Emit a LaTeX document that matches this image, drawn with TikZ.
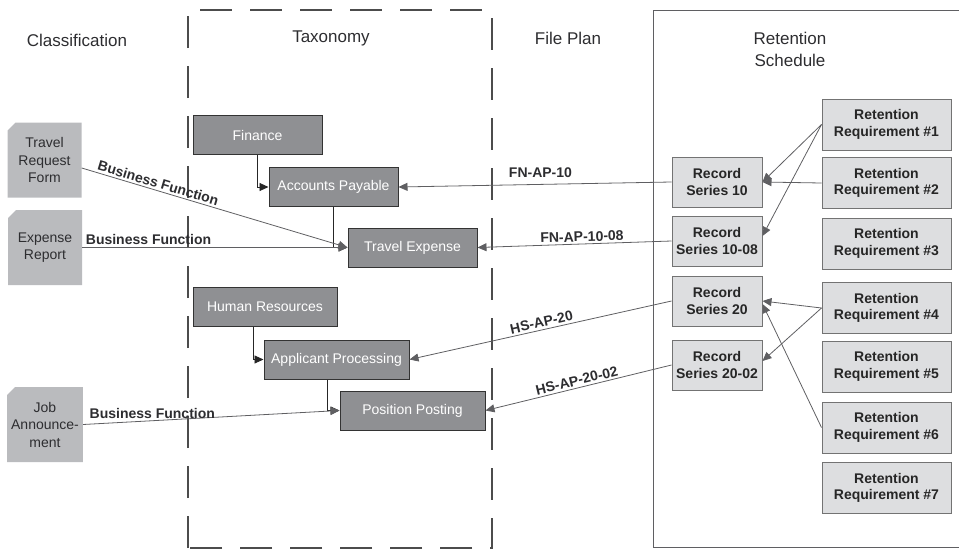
\documentclass[tikz,border=0pt]{standalone}
\usepackage{fontspec}
\setmainfont{Liberation Sans}
\usetikzlibrary{arrows.meta,shapes.misc}
\definecolor{docgray}{RGB}{186,187,190}
\definecolor{darkbox}{RGB}{143,144,147}
\definecolor{lightbox}{RGB}{221,222,224}
\definecolor{linegray}{RGB}{95,95,98}
\definecolor{txtgray}{RGB}{45,45,48}

\begin{document}
\begin{tikzpicture}[x=1pt,y=-1pt,
  every node/.style={font=\fontsize{14}{17}\selectfont,align=center},
  title/.style={font=\fontsize{17}{22}\selectfont,text=txtgray},
  doc/.style={chamfered rectangle,chamfered rectangle corners=north west,
    chamfered rectangle xsep=4pt,chamfered rectangle ysep=4pt,fill=docgray,
    inner sep=0pt,minimum width=74pt,minimum height=75pt,text=txtgray,
    font=\fontsize{14}{17.5}\selectfont},
  taxbox/.style={draw=black!80,line width=1pt,fill=darkbox,text=white,
    inner sep=0pt,minimum height=39pt},
  rsbox/.style={draw=black!55,line width=1pt,fill=lightbox,text=black!85,
    inner sep=0pt,minimum width=90pt,minimum height=50pt,font=\bfseries\fontsize{14}{16.5}\selectfont},
  reqbox/.style={rsbox,minimum width=129pt,minimum height=51pt},
  lab/.style={font=\bfseries\fontsize{14}{17}\selectfont,text=txtgray,inner sep=2pt},
  conn/.style={draw=linegray,line width=0.8pt,-{Triangle[length=9pt,width=8pt]}},
  tree/.style={draw=black!85,line width=0.9pt,-{Triangle[length=9pt,width=8pt]}}]
\useasboundingbox (0,0) rectangle (959,549);

\draw[linegray,line width=1pt] (959,10) -- (653,10) -- (653,547) -- (959,547);
\draw[black!70,line width=1.3pt,dash pattern=on 32pt off 18pt] (188,548) -- (188,10) -- (492,10) -- (492,548) -- cycle;

\node[title] (tcls) at (77,40) {Classification};
\node[title] (ttax) at (331,38) {Taxonomy};
\node[title] (tfp) at (568,38) {File Plan};
\node[title] (tret) at (790,49) {Retention\\Schedule};

\node[doc] (trf) at (44.5,160) {Travel\\Request\\Form};
\node[doc] (exp) at (45,247.5) {Expense\\Report};
\node[doc] (job) at (45,424.5) {Job\\Announce-\\ment};

\node[taxbox,minimum width=129pt] (fin) at (257.5,135) {Finance};
\node[taxbox,minimum width=129pt] (ap) at (333.5,187) {Accounts Payable};
\node[taxbox,minimum width=129pt] (te) at (412.5,247.5) {Travel Expense};
\node[taxbox,minimum width=144pt] (hr) at (265,307) {Human Resources};
\node[taxbox,minimum width=145pt] (apl) at (336.5,359.5) {Applicant Processing};
\node[taxbox,minimum width=145pt] (pp) at (412.5,410.5) {Position Posting};

\node[rsbox] (rs10) at (717,182) {Record\\Series 10};
\node[rsbox] (rs1008) at (717,241) {Record\\Series 10-08};
\node[rsbox] (rs20) at (717,301) {Record\\Series 20};
\node[rsbox] (rs2002) at (717,365) {Record\\Series 20-02};

\foreach \n/\y in {1/124.5,2/183,3/243.5,4/308,5/366.5,6/427.5,7/488}
  \node[reqbox] (rr\n) at (886.5,\y) {Retention\\Requirement \#\n};

\draw[tree] (fin.south) |- (ap.west);
\draw[tree] (ap.south) |- (te.west);
\draw[tree] ([xshift=-12pt]hr.south) |- (apl.west);
\draw[tree] ([xshift=-9.5pt]apl.south) |- (pp.west);

\draw[conn] ([yshift=-8pt]trf.east) -- node[lab,sloped,above,pos=0.28] {Business Function} (te.west);
\draw[conn] (exp.east) -- node[lab,above,pos=0.25] {Business Function} (te.west);
\draw[conn] (job.east) -- node[lab,above,pos=0.27] {Business Function} (pp.west);

\draw[conn] (rs10.west) -- node[lab,above=4pt,pos=0.48] {FN-AP-10} (ap.east);
\draw[conn] (rs1008.west) -- node[lab,sloped,above,pos=0.46] {FN-AP-10-08} (te.east);
\draw[conn] (rs20.west) -- node[lab,sloped,above,pos=0.49] {HS-AP-20} (apl.east);
\draw[conn] (rs2002.west) -- node[lab,sloped,above,pos=0.5] {HS-AP-20-02} (pp.east);

\draw[conn] (rr1.west) -- (rs10.east);
\draw[conn] (rr1.west) -- ([yshift=5pt]rs1008.east);
\draw[conn] (rr2.west) -- (rs10.east);
\draw[conn] (rr4.west) -- (rs20.east);
\draw[conn] (rr4.west) -- ([yshift=4pt]rs2002.east);
\draw[conn] (rr6.west) -- ([yshift=-3pt]rs20.east);
\end{tikzpicture}
\end{document}
